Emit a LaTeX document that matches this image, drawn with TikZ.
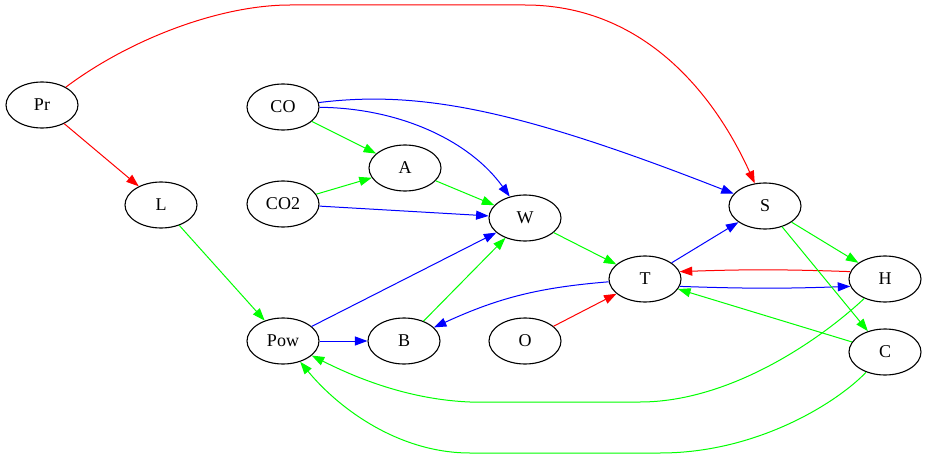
\documentclass[tikz,border=0pt]{standalone}
\usepackage{fontspec}
\setmainfont{Liberation Serif}
\usetikzlibrary{arrows.meta, shapes, positioning}

\begin{document}
\begin{tikzpicture}[x=1pt, y=1pt, line width=1pt,
  var/.style={draw, ellipse, minimum width=72pt, minimum height=46pt,
    inner sep=0pt, line width=1.1pt, font=\fontsize{18}{20}\selectfont},
  >={Triangle[length=12.5pt, width=9pt]}]
  \useasboundingbox (0,0) rectangle (927,459);

  % Nodes
  \node[var] (pr) at (42, 354) {Pr};
  \node[var] (l) at (161, 254) {L};
  \node[var] (co) at (283, 352) {CO};
  \node[var] (co2) at (283, 255) {CO2};
  \node[var] (a) at (405, 291) {A};
  \node[var] (w) at (525, 241) {W};
  \node[var] (pow) at (283, 118) {Pow};
  \node[var] (b) at (404, 118) {B};
  \node[var] (o) at (525, 118) {O};
  \node[var] (t) at (645, 180) {T};
  \node[var] (s) at (765, 253) {S};
  \node[var] (h) at (885, 180) {H};
  \node[var] (c) at (885, 107) {C};

  % Edges
  \draw[->, red] (pr) .. controls (130,420) and (220,454) .. (290,454)
    -- (525,454) .. controls (640,454) and (712,370) .. (s);
  \draw[->, red] (pr) -- (l);
  \draw[->, green] (l) -- (pow);
  \draw[->, green] (co) -- (a);
  \draw[->, green] (co2) -- (a);
  \draw[->, green] (a) -- (w);
  \draw[->, blue] (co) .. controls (400,351) and (470,318) .. (w);
  \draw[->, blue] (co) .. controls (420,369) and (520,349) .. (s);
  \draw[->, blue] (co2) -- (w);
  \draw[->, blue] (pow) -- (w);
  \draw[->, blue] (pow) -- (b);
  \draw[->, green] (b) -- (w);
  \draw[->, green] (w) -- (t);
  \draw[->, red] (o) -- (t);
  \draw[->, blue] (t) -- (s);
  \draw[->, blue] (t.-12) to[bend right=2] (h.192);
  \draw[->, red] (h.168) to[bend right=2] (t.12);
  \draw[->, blue] (t) to[bend right=10] (b);
  \draw[->, green] (s) -- (h);
  \draw[->, green] (s) -- (c);
  \draw[->, green] (c) -- (t);
  \draw[->, green] (h) .. controls (820,119) and (730,57) .. (640,57)
    -- (470,57) .. controls (420,59) and (370,74) .. (pow);
  \draw[->, green] (c) .. controls (840,59) and (760,6) .. (660,6)
    -- (470,6) .. controls (400,6) and (340,49) .. (pow);

\end{tikzpicture}
\end{document}
